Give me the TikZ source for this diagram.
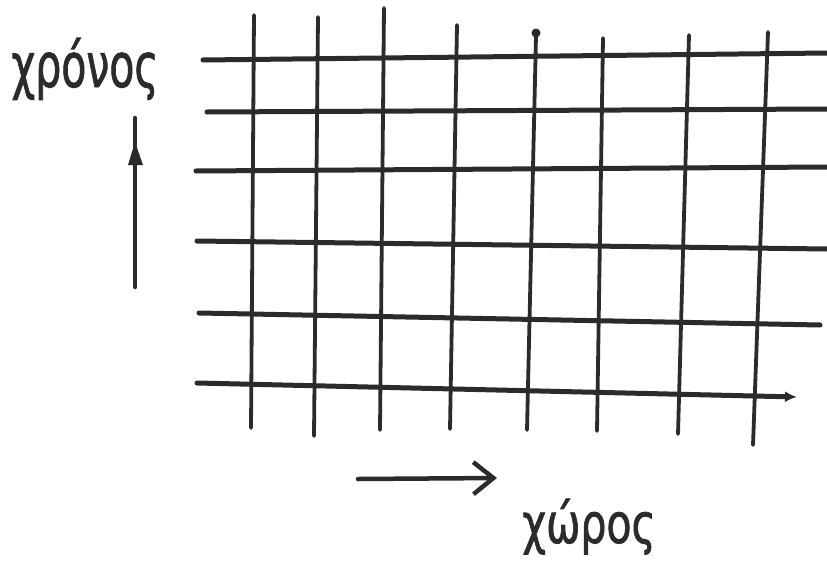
\documentclass[tikz,border=0pt]{standalone}
\usepackage{fontspec}
\setmainfont{DejaVu Sans}
\usetikzlibrary{arrows.meta}
\definecolor{ink}{HTML}{2B2B2B}
\begin{document}
\begin{tikzpicture}[x=1pt,y=-1pt,
  hline/.style={draw=ink,line width=5pt,line cap=round},
  vline/.style={draw=ink,line width=3.8pt,line cap=round},
  axisline/.style={draw=ink,line width=4.5pt,line cap=round},
  handtext/.style={text=ink,inner sep=0pt,anchor=base,font=\fontsize{41}{41}\selectfont\addfontfeature{FakeBold=1.5}}]
\useasboundingbox (0,0) rectangle (827,573);
\fill[white] (0,0) rectangle (827,573);
% vertical grid lines
\foreach \n/\xa/\ya/\xb/\yb in {1/254/15/251/428, 2/318/17/314/436, 3/384/8/380/430,
  4/457/25/450/429, 5/536/36/527/430, 6/603/38/597/431, 7/689/35/678/434, 8/768/32/753/445}{
  \coordinate (v\n-t) at (\xa,\ya);
  \coordinate (v\n-b) at (\xb,\yb);
  \draw[vline] (v\n-t) -- (v\n-b);
}
\fill[ink] (v5-t) ++(0,-3) circle (4.5pt);
% horizontal grid lines
\foreach \n/\xa/\ya/\xb/\yb in {1/203/60/827/53, 2/207/112/827/109, 3/196/171/827/167,
  4/197/241/827/249, 5/199/313/820/325}{
  \coordinate (h\n-l) at (\xa,\ya);
  \coordinate (h\n-r) at (\xb,\yb);
  \draw[hline] (h\n-l) -- (h\n-r);
}
\coordinate (h6-l) at (197,383);
\coordinate (h6-r) at (797,397);
\draw[hline,-{Latex[length=12pt,width=11pt]}] (h6-l) -- (h6-r);
% time axis arrow
\coordinate (ta) at (135,287);
\coordinate (tb) at (135,118);
\draw[axisline] (ta) -- (tb);
\fill[ink] (135,142) -- (128,165) -- (143,165) -- cycle;
% space axis arrow
\coordinate (sa) at (358,479);
\coordinate (sb) at (497,478);
\draw[axisline,-{Straight Barb[length=20pt,width=32pt]}] (sa) -- (sb);
% labels
\node[handtext] (chronos) at (85,87) {\scalebox{1}[1.5]{χρόνος}};
\node[handtext] (choros) at (589,543) {\scalebox{1}[1.35]{χώρος}};
\end{tikzpicture}
\end{document}
